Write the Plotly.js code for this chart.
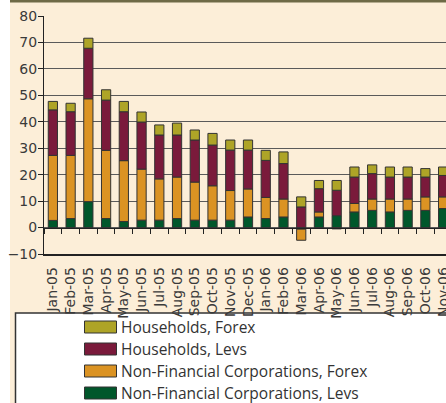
<!DOCTYPE html>
<html>
<head>
<meta charset="utf-8">
<script src="https://cdn.plot.ly/plotly-3.0.1.min.js"></script>
<style>
html,body{margin:0;padding:0;overflow:hidden;background:#ffffff;}
#chart{width:455px;height:410px;}
</style>
</head>
<body>
<div id="chart"></div>
<script>
const months = ["Jan-05","Feb-05","Mar-05","Apr-05","May-05","Jun-05","Jul-05","Aug-05","Sep-05","Oct-05","Nov-05","Dec-05",
                "Jan-06","Feb-06","Mar-06","Apr-06","May-06","Jun-06","Jul-06","Aug-06","Sep-06","Oct-06","Nov-06"];
const nfcLevs  = [2.7, 3.4, 9.8, 3.4, 2.3, 2.8, 2.8, 3.4, 2.8, 2.8, 2.8, 4.0, 3.4, 4.0, -0.6, 4.0, 4.5, 5.9, 6.5, 5.9, 6.5, 6.5, 7.2];
const nfcForex = [24.6, 23.9, 38.9, 25.8, 23.0, 19.3, 15.6, 15.7, 14.4, 13.0, 11.2, 10.6, 8.0, 6.8, -4.2, 1.9, -0.5, 3.2, 4.3, 4.9, 4.3, 5.1, 4.4];
const hhLevs   = [17.2, 16.5, 19.1, 19.0, 18.5, 17.8, 16.6, 15.9, 15.9, 15.4, 15.3, 14.7, 14.0, 13.4, 7.8, 8.8, 9.6, 10.0, 9.6, 8.3, 8.3, 7.5, 8.1];
const hhForex  = [3.2, 3.2, 3.8, 3.9, 3.9, 3.8, 3.8, 4.5, 3.8, 4.4, 3.8, 3.8, 3.8, 4.4, 3.8, 3.1, 3.7, 3.8, 3.3, 3.8, 3.8, 3.2, 3.2];
const seriesNames = ["Non-Financial Corporations, Levs","Non-Financial Corporations, Forex","Households, Levs","Households, Forex"];
const seriesColors = ["#00572B","#DB9323","#7A1A3B","#AEA427"];
const yTicks = [-10,0,10,20,30,40,50,60,70,80];

const seriesData = [nfcLevs, nfcForex, hhLevs, hhForex];
const traces = seriesData.map((vals, i) => ({
  type: "bar",
  name: seriesNames[i],
  x: months,
  y: vals,
  marker: {color: seriesColors[i], line: {color: "#333333", width: 1}},
  showlegend: false,
  hoverinfo: "x+y+name"
}));
// helper trace so the zero-line category axis (ticks at y=0) knows the categories
traces.push({type: "scatter", mode: "none", x: months, y: nfcLevs, xaxis: "x2", yaxis: "y",
  showlegend: false, hoverinfo: "skip"});

const W = 455, H = 410, ml = 44, mr = 3, mt = 16, mb = 156;
const pw = W - ml - mr, ph = H - mt - mb;
const px = v => (v - ml) / pw;
const py = v => (H - mb - v) / ph;

const yFont = {family: "DejaVu Sans, Verdana, sans-serif", size: 14, color: "#3a3a3a"};
const xFont = {family: "DejaVu Sans, Verdana, sans-serif", size: 14, color: "#3a3a3a"};

const shapes = [
  {type: "rect", xref: "paper", yref: "paper", x0: px(10), x1: px(W + 20), y0: py(H + 20), y1: py(0),
   fillcolor: "#FCEED8", line: {width: 0}, layer: "below"},
  {type: "rect", xref: "paper", yref: "paper", x0: px(10), x1: px(W + 20), y0: py(2.5), y1: py(-2),
   fillcolor: "#6E6A46", line: {width: 0}, layer: "below"},
  {type: "rect", xref: "paper", yref: "paper", x0: px(15.5), x1: px(W + 20), y0: py(H + 20), y1: py(313),
   fillcolor: "#ffffff", line: {color: "#333333", width: 1.5}, layer: "below"}
];
const annotations = [];
// legend (top to bottom: reverse of stacking order)
const legendOrder = [3, 2, 1, 0];
legendOrder.forEach((si, row) => {
  const cy = 327 + row * 22;
  shapes.push({type: "rect", xref: "paper", yref: "paper", x0: px(84.5), x1: px(116.5), y0: py(cy + 6), y1: py(cy - 6),
    fillcolor: seriesColors[si], line: {color: "#333333", width: 1}, layer: "above"});
  annotations.push({xref: "paper", yref: "paper", x: px(119), y: py(cy), xanchor: "left", yanchor: "middle",
    text: seriesNames[si], showarrow: false,
    font: {family: "Open Sans, Noto Sans, sans-serif", size: 15.5, color: "#333333"}});
});

const layout = {
  width: W, height: H,
  margin: {l: ml, r: mr, t: mt, b: mb, pad: 0},
  paper_bgcolor: "#ffffff",
  plot_bgcolor: "rgba(0,0,0,0)",
  barmode: "relative",
  bargap: 0.48,
  showlegend: false,
  xaxis: {
    type: "category",
    categoryorder: "array", categoryarray: months,
    range: [-0.5, 22.5],
    tickmode: "linear", tick0: 0, dtick: 1,
    tickangle: -90,
    ticks: "",
    ticklabelstandoff: 6,
    tickfont: xFont,
    showline: true, linecolor: "#222222", linewidth: 1.5,
    showgrid: false, zeroline: false,
    fixedrange: true
  },
  xaxis2: {
    type: "category",
    categoryorder: "array", categoryarray: months,
    overlaying: "x", anchor: "free", side: "bottom",
    position: 10 / 90,
    range: [-0.5, 22.5],
    tickmode: "linear", tick0: 0, dtick: 1,
    ticks: "outside", tickson: "boundaries", ticklen: 5, tickwidth: 1, tickcolor: "#222222",
    showticklabels: false,
    showline: true, linecolor: "#222222", linewidth: 1,
    showgrid: false, zeroline: false
  },
  yaxis: {
    range: [-10, 80],
    tickvals: yTicks,
    ticks: "outside", ticklen: 5, tickcolor: "#222222",
    ticklabelstandoff: -2,
    tickfont: yFont,
    showline: true, linecolor: "#222222", linewidth: 1,
    showgrid: true, gridcolor: "#5a5a5a", gridwidth: 1,
    zeroline: false,
    fixedrange: true
  },
  shapes: shapes,
  annotations: annotations
};

Plotly.newPlot("chart", traces, layout, {displayModeBar: false, staticPlot: true});
</script>
</body>
</html>
